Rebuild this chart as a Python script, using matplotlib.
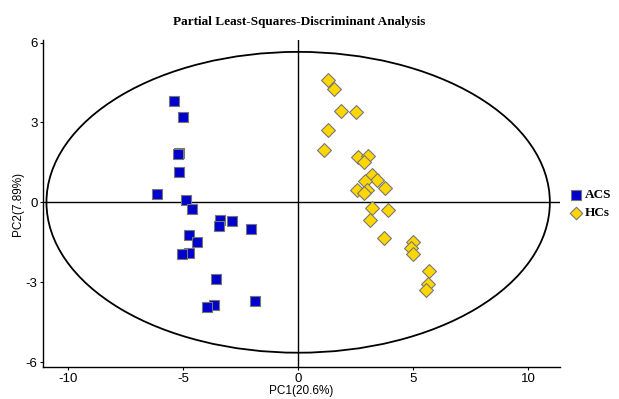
import matplotlib
matplotlib.use("Agg")
import matplotlib.pyplot as plt
from matplotlib.patches import Ellipse

plt.rcParams['axes.unicode_minus'] = False

# ACS group (blue squares)
acs_x = [-5.40, -5.01, -5.20, -5.23, -5.20, -6.16, -4.89, -4.63, -3.38, -2.87,
         -3.46, -2.04, -4.75, -4.40, -4.76, -5.04, -3.57, -1.86, -3.65, -3.97]
acs_y = [3.80, 3.20, 1.86, 1.80, 1.15, 0.30, 0.10, -0.25, -0.65, -0.71,
         -0.89, -1.01, -1.21, -1.50, -1.89, -1.94, -2.89, -3.70, -3.86, -3.95]

# HCs group (yellow diamonds)
hcs_x = [1.28, 1.56, 1.85, 2.50, 1.31, 1.12, 2.59, 3.06, 2.85, 3.20, 3.44, 2.91, 3.76,
         2.56, 2.98, 2.88, 3.22, 3.90, 3.14, 3.74, 4.99, 4.89, 4.98, 5.68, 5.63, 5.56]
hcs_y = [4.61, 4.24, 3.44, 3.41, 2.73, 1.95, 1.69, 1.74, 1.51, 1.01, 0.82, 0.80, 0.54,
         0.46, 0.45, 0.36, -0.21, -0.30, -0.66, -1.36, -1.49, -1.71, -1.95, -2.59, -3.06, -3.30]

xticks = [-10, -5, 0, 5, 10]
yticks = [-6, -3, 0, 3, 6]

fig = plt.figure(figsize=(6.19, 3.99), dpi=100)
ax = fig.add_axes([0.0695, 0.080, 0.8355, 0.820])

ax.add_patch(Ellipse((0, 0), 21.9, 11.3, fill=False, edgecolor='black', lw=1.3, zorder=1))
ax.axhline(0, color='black', lw=1.0, zorder=1)
ax.axvline(0, color='black', lw=1.0, zorder=1)

ax.scatter(acs_x, acs_y, marker='s', s=52, c='#0000CC', edgecolors='#777777',
           linewidths=0.8, zorder=3, label='ACS')
ax.scatter(hcs_x, hcs_y, marker='D', s=50, c='#FFD700', edgecolors='#777777',
           linewidths=0.8, zorder=3, label='HCs')

ax.set_xlim(-11.1, 11.4)
ax.set_ylim(-6.19, 6.1)
ax.set_xticks(xticks)
ax.set_yticks(yticks)
ax.tick_params(labelsize=9.5, length=2.5, width=0.8, pad=1.5, colors='black')
for lab in ax.get_xticklabels() + ax.get_yticklabels():
    lab.set_family('Liberation Sans')
for s in ['top', 'right']:
    ax.spines[s].set_visible(False)
for s in ['left', 'bottom']:
    ax.spines[s].set_linewidth(1.0)

ax.set_xlabel('PC1(20.6%)', family='Liberation Sans', fontsize=8.5, labelpad=0.5)
ax.set_ylabel('PC2(7.89%)', family='Liberation Sans', fontsize=8.5, labelpad=1)
fig.text(0.483, 0.945, 'Partial Least-Squares-Discriminant Analysis', family='Liberation Serif',
         fontweight='bold', fontsize=9.5, ha='center', va='center')

handles, labels = ax.get_legend_handles_labels()
fig.legend(handles, labels, loc='center left', bbox_to_anchor=(568 / 619, (399 - 204) / 399),
           frameon=False, borderpad=0, borderaxespad=0,
           prop={'family': 'Liberation Serif', 'weight': 'bold', 'size': 9.5},
           handletextpad=0.1, labelspacing=0.45, handlelength=1.2, markerscale=0.9)

fig.savefig('out.png', dpi=100)
